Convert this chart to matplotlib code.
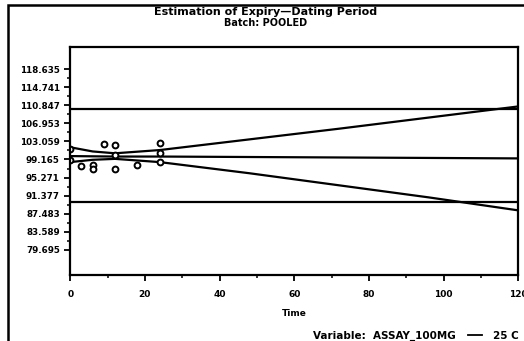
"""
Estimation of Expiry-Dating Period, batch pooled (scanned SAS plot)
"""
import matplotlib
matplotlib.use('Agg')
import matplotlib.pyplot as plt
from matplotlib.patches import Rectangle
from matplotlib.lines import Line2D

# observed assay values
times = [0, 0, 3, 6, 6, 9, 12, 12, 12, 18, 24, 24, 24]
assay = [101.5, 99.0, 97.7, 98.0, 97.1, 102.5, 102.3, 100.1, 97.1, 98.0, 102.7, 100.5, 98.6]

# fitted line and 95% confidence limits
fit_t = [0, 6, 12, 24, 48, 72, 96, 120]
fit_mean = [99.9, 99.85, 99.8, 99.8, 99.7, 99.6, 99.5, 99.4]
fit_upper = [101.8, 100.9, 100.5, 101.2, 103.5, 105.8, 108.2, 110.6]
fit_lower = [98.6, 99.1, 99.3, 98.6, 96.2, 93.6, 91.0, 88.2]

# specification limits
spec_limits = [90, 110]

yticks = [79.695, 83.589, 87.483, 91.377, 95.271, 99.165,
          103.059, 106.953, 110.847, 114.741, 118.635]
xticks = [0, 20, 40, 60, 80, 100, 120]

fig = plt.figure(figsize=(5.24, 3.41), dpi=100)
ax = fig.add_axes([0.134, 0.194, 0.855, 0.668])

lw = 1.6
for s in spec_limits:
    ax.axhline(s, color='black', lw=lw)
ax.plot(fit_t, fit_mean, color='black', lw=lw)
ax.plot(fit_t, fit_upper, color='black', lw=lw)
ax.plot(fit_t, fit_lower, color='black', lw=lw)
ax.plot(times, assay, 'o', color='black', mfc='white', ms=4.2, mew=1.4)

ax.set_xlim(0, 120)
ax.set_ylim(74.3, 123.4)
ax.set_xticks(xticks)
ax.set_xticks(range(10, 120, 20), minor=True)
ax.set_yticks(yticks)
ax.set_yticks([v + 3.894 / 2 for v in yticks[:-1]], minor=True)
ax.set_yticklabels([f'{v:.3f}' for v in yticks])

for s in ax.spines.values():
    s.set_linewidth(1.6)
ax.tick_params(which='major', length=4, width=1.3)
ax.tick_params(which='minor', length=2.5, width=1.1)
ax.tick_params(axis='x', pad=7, labelsize=6.5)
ax.tick_params(axis='y', labelsize=6.3)
for lab in ax.get_xticklabels() + ax.get_yticklabels():
    lab.set_fontweight('bold')

ax.set_xlabel('Time', fontsize=6.5, fontweight='bold', labelpad=7)

# titles
fig.text(0.507, 0.965, 'Estimation of Expiry\u2014Dating Period', ha='center', va='center',
         fontsize=8, fontweight='bold')
fig.text(0.506, 0.932, 'Batch: POOLED', ha='center', va='center',
         fontsize=7, fontweight='bold')

# legend line at the bottom (cut off at right edge, as in the scan)
fig.text(0.597, 0.0, 'Variable:  ASSAY_100MG', ha='left', va='bottom',
         fontsize=7.5, fontweight='bold')
fig.add_artist(Line2D([0.893, 0.92], [0.017, 0.017], color='black', lw=1.3,
                      transform=fig.transFigure))
fig.text(0.94, 0.0, '25 C', ha='left', va='bottom', fontsize=7.5, fontweight='bold')

# outer frame
fig.add_artist(Rectangle((0.015, -0.02), 1.0, 1.005, transform=fig.transFigure,
                         fill=False, lw=1.8, ec='black'))

fig.savefig('out.png', dpi=100)
